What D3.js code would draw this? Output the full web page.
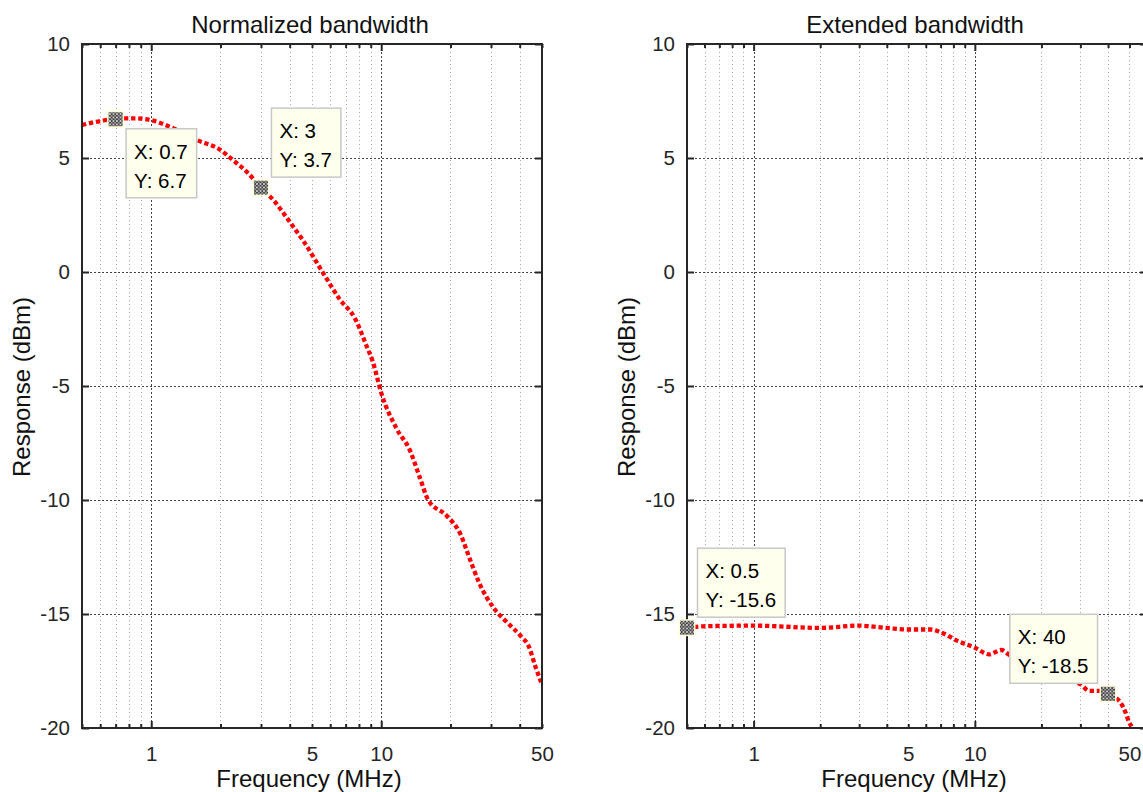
<!DOCTYPE html>
<html>
<head>
<meta charset="utf-8">
<script src="https://cdn.jsdelivr.net/npm/d3@7"></script>
<style>
	body{margin:0;background:#fff;}
	svg{display:block;}
</style>
</head>
<body>
<div id="chart"></div>
<script>
// left panel: normalized bandwidth
var normFreq=[0.5,0.6,0.7,0.85,1,1.25,1.57,2,2.27,2.6,3,3.4,4,4.56,5.6,6.6,7.7,8.6,9.2,10,11.7,13.3,14.7,16,19.3,22.1,24.1,26.7,30.9,35.5,40.7,43.7,46.8,50];
var normResp=[6.45,6.62,6.72,6.74,6.66,6.3,5.8,5.35,4.9,4.4,3.7,3.15,2.2,1.4,-0.06,-1.2,-2.05,-3.2,-3.95,-5.3,-6.9,-7.8,-9.0,-10.0,-10.7,-11.5,-12.5,-13.65,-14.75,-15.4,-16.0,-16.4,-17.3,-18.1];
// right panel: extended bandwidth
var extFreq=[0.5,0.59,1,2,3,4,5,6.3,7,8.4,10,11.6,13.2,14.2,16,20,25,30,33,36.7,40,45.5,47.9,49.8,51.6,55];
var extResp=[-15.6,-15.54,-15.51,-15.61,-15.51,-15.61,-15.68,-15.68,-15.8,-16.19,-16.48,-16.77,-16.58,-16.77,-17.0,-17.3,-17.7,-18.08,-18.37,-18.37,-18.5,-18.88,-19.3,-19.75,-20,-21];

// data tips
var normTipX=[0.7,3], normTipY=[6.7,3.7];
var extTipX=[0.5,40], extTipY=[-15.6,-18.5];

var yTicks=[-20,-15,-10,-5,0,5,10];
var xLabels=[1,5,10,50];

var W=1143,H=792,
	plotTop=44,plotH=684,plotW=460,
	axisCol='#262626',
	font='"Liberation Sans", Arial, Helvetica, sans-serif';

var svg=d3.select('#chart').append('svg')
	.attr('width',W).attr('height',H)
	.attr('font-family',font);

var defs=svg.append('defs');
var pat=defs.append('pattern').attr('id','tipHatch')
	.attr('width',3.5).attr('height',3.5)
	.attr('patternUnits','userSpaceOnUse');
pat.append('rect').attr('width',3.5).attr('height',3.5).attr('fill','#d8d8d8');
pat.append('circle').attr('cx',1.75).attr('cy',1.75).attr('r',1.25)
	.attr('fill','#fff').attr('stroke','#000').attr('stroke-width',0.8);

function logTicks(dom){
	var arr=[],d,m;
	for(d=-1;d<=2;d++){
		for(m=1;m<10;m++){
			var v=+(m*Math.pow(10,d)).toPrecision(3);
			if(v>=dom[0]&&v<=dom[1]) arr.push(v);
		}
	}
	return arr;
}
function isMajor(v){
	var l=Math.log10(v);
	return Math.abs(l-Math.round(l))<1e-9;
}

function panel(id,left,xDomain,title,freq,resp,tipX,tipY,tipDir){
	var g=svg.append('g').attr('transform','translate('+left+','+plotTop+')');
	var x=d3.scaleLog().domain(xDomain).range([0,plotW]);
	var y=d3.scaleLinear().domain([-20,10]).range([plotH,0]);
	var ticks=logTicks(xDomain);

	defs.append('clipPath').attr('id','clip'+id)
		.append('rect').attr('width',plotW).attr('height',plotH);

	// grid
	var grid=g.append('g');
	grid.selectAll('.vg').data(ticks).enter().append('line')
		.attr('x1',function(d){return Math.round(x(d))+0.5;})
		.attr('x2',function(d){return Math.round(x(d))+0.5;})
		.attr('y1',0).attr('y2',plotH)
		.attr('stroke',function(d){return isMajor(d)?'#444':'#a8a8a8';})
		.attr('stroke-width',1)
		.attr('stroke-dasharray',function(d){return isMajor(d)?'2,2':'1,3';});
	grid.selectAll('.hg').data(yTicks.slice(1,-1)).enter().append('line')
		.attr('x1',0).attr('x2',plotW)
		.attr('y1',function(d){return Math.round(y(d))+0.5;})
		.attr('y2',function(d){return Math.round(y(d))+0.5;})
		.attr('stroke','#444').attr('stroke-width',1)
		.attr('stroke-dasharray','2,2');

	// axes
	var fmt=function(d){return xLabels.indexOf(d)>=0?String(d):'';};
	var xb=g.append('g').attr('transform','translate(0,'+plotH+')')
		.call(d3.axisBottom(x).tickValues(ticks).tickFormat(fmt).tickSize(-4).tickSizeOuter(0).tickPadding(18));
	var xt=g.append('g')
		.call(d3.axisTop(x).tickValues(ticks).tickFormat('').tickSize(-4).tickSizeOuter(0));
	[xb,xt].forEach(function(a){
		a.select('.domain').remove();
		a.selectAll('.tick line').attr('stroke',axisCol).attr('stroke-width',2)
			.attr('y2',function(d){var s=isMajor(d)?7:4;return a===xb?-s:s;});
	});
	xb.selectAll('text').attr('font-size',20.5).attr('fill',axisCol).attr('font-family',font);

	var yl=g.append('g')
		.call(d3.axisLeft(y).tickValues(yTicks).tickFormat(function(d){return String(d);})
			.tickSize(-7).tickSizeOuter(0).tickPadding(12));
	var yr=g.append('g').attr('transform','translate('+plotW+',0)')
		.call(d3.axisRight(y).tickValues(yTicks).tickFormat('').tickSize(-7).tickSizeOuter(0));
	[yl,yr].forEach(function(a){
		a.select('.domain').remove();
		a.selectAll('.tick line').attr('stroke',axisCol).attr('stroke-width',2);
	});
	yl.selectAll('text').attr('font-size',20.5).attr('fill',axisCol).attr('font-family',font);

	// curve
	var line=d3.line()
		.x(function(d,i){return x(freq[i]);})
		.y(function(d){return y(d);})
		.curve(d3.curveMonotoneX);
	g.append('path').datum(resp)
		.attr('clip-path','url(#clip'+id+')')
		.attr('d',line)
		.attr('fill','none')
		.attr('stroke','#ff0000')
		.attr('stroke-width',4.3)
		.attr('stroke-dasharray','4.3,2.8');

	// frame
	g.append('rect').attr('width',plotW).attr('height',plotH)
		.attr('fill','none').attr('stroke',axisCol).attr('stroke-width',2);

	// title and labels
	svg.append('text').text(title)
		.attr('x',left+plotW/2-2).attr('y',32.5)
		.attr('text-anchor','middle').attr('font-size',24).attr('fill','#111');
	svg.append('text').text('Frequency (MHz)')
		.attr('x',left+plotW/2-3).attr('y',787)
		.attr('text-anchor','middle').attr('font-size',24).attr('fill','#111');
	svg.append('text').text('Response (dBm)')
		.attr('transform','translate('+(left-52)+','+(plotTop+plotH/2+1)+') rotate(-90)')
		.attr('text-anchor','middle').attr('font-size',24).attr('fill','#111');

	// data tips
	tipX.forEach(function(tx,i){
		var mx=x(tx),my=y(tipY[i]),dir=tipDir[i];
		var tg=g.append('g');
		tg.append('rect').attr('x',mx-8.5).attr('y',my-8.5).attr('width',17).attr('height',17)
			.attr('fill','#ffffd6');
		tg.append('rect').attr('x',mx-7).attr('y',my-7).attr('width',14).attr('height',14)
			.attr('fill','url(#tipHatch)');
		var box=tg.append('rect').attr('fill','#ffffee').attr('stroke','#c8c8c8').attr('stroke-width',1.5);
		var t1=tg.append('text').text('X: '+tx).attr('font-size',20.5).attr('fill','#000');
		var t2=tg.append('text').text('Y: '+tipY[i]).attr('font-size',20.5).attr('fill','#000');
		var tw=Math.max(t1.node().getComputedTextLength(),t2.node().getComputedTextLength());
		var bw=tw+17,bh=69,bx,by;
		bx=dir[1]=='e'?mx+10.5:mx-10.5-bw;
		by=dir[0]=='s'?my+9.5:my-10.5-bh;
		box.attr('x',bx).attr('y',by).attr('width',bw).attr('height',bh);
		t1.attr('x',bx+8).attr('y',by+30);
		t2.attr('x',bx+8).attr('y',by+59);
	});
}

panel('L',82,[0.5,50],'Normalized bandwidth',normFreq,normResp,normTipX,normTipY,['se','ne']);
panel('R',687,[0.5,60],'Extended bandwidth',extFreq,extResp,extTipX,extTipY,['ne','nw']);
</script>
</body>
</html>
